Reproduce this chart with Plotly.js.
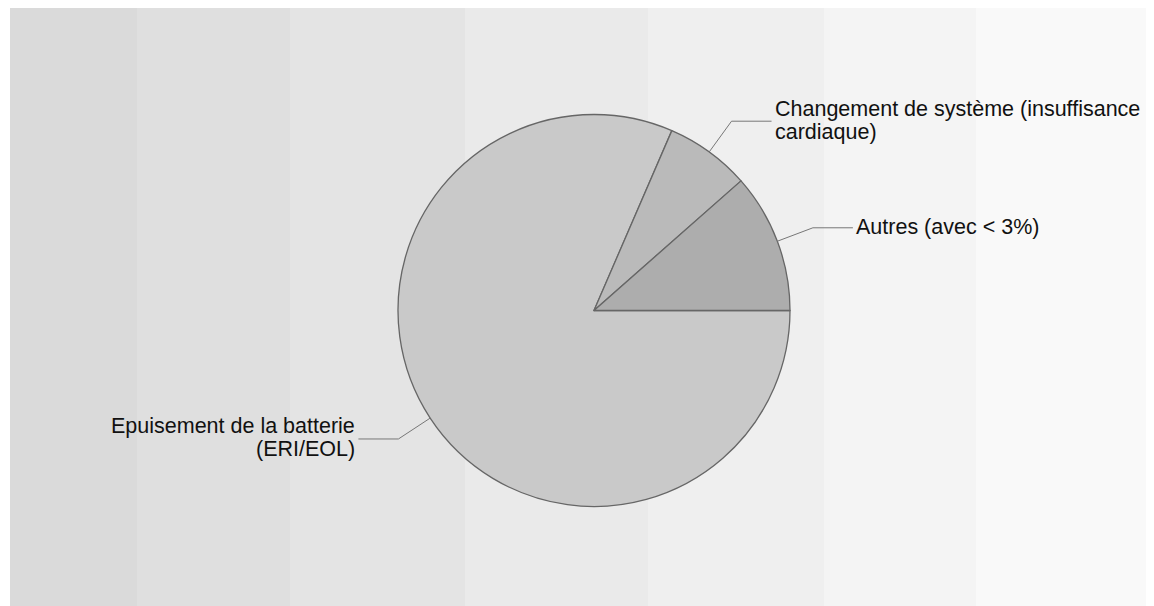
<!DOCTYPE html>
<html>
<head>
<meta charset="utf-8">
<script src="https://cdn.plot.ly/plotly-3.0.1.min.js"></script>
<style>html,body{margin:0;padding:0;background:#fff;}#chart{width:1154px;height:606px;}</style>
</head>
<body>
<div id="chart"></div>
<script>
// Data
const categories = [
  "Epuisement de la batterie<br>(ERI/EOL)",
  "Changement de système (insuffisance<br>cardiaque)",
  "Autres (avec < 3%)"
];
const values = [81.5, 7.0, 11.5];
const sliceColors = ["#c9c9c9", "#bababa", "#adadad"];
const labelSide = ["left", "right", "right"];

// Layout constants
const W = 1154, H = 606;
const domX = [398 / W, 790 / W];
const domY = [1 - 506.5 / H, 1 - 114.5 / H];
const lineH = 23;

// Background vertical bands (decoration)
const bandEdges = [10, 137, 290, 465, 648, 824, 976, 1146];
const bandColors = ["#dadada", "#dfdfdf", "#e4e4e4", "#eaeaea", "#efefef", "#f4f4f4", "#f9f9f9"];

const shapes = [];
for (let i = 0; i < bandColors.length; i++) {
  shapes.push({
    type: "rect", xref: "paper", yref: "paper", layer: "below",
    x0: bandEdges[i] / W, x1: bandEdges[i + 1] / W, y0: 0, y1: 1 - 8 / H,
    fillcolor: bandColors[i], line: { width: 0 }
  });
}

// Leader lines and labels computed from the data
const cx = (domX[0] + domX[1]) / 2 * W;
const cy = (1 - (domY[0] + domY[1]) / 2) * H;
const r = Math.min((domX[1] - domX[0]) * W, (domY[1] - domY[0]) * H) / 2;
const total = values.reduce((a, b) => a + b, 0);
const annotations = [];
let start = 0; // degrees, 3 o'clock, going clockwise
const toPaper = (px, py) => [px / W, 1 - py / H];
for (let i = 0; i < values.length; i++) {
  const span = values[i] / total * 360;
  const mid = (start - span / 2) * Math.PI / 180;
  start -= span;
  const p0 = [cx + r * Math.cos(mid), cy - r * Math.sin(mid)];
  const p1 = [cx + (r + 38) * Math.cos(mid), cy - (r + 38) * Math.sin(mid)];
  const dir = labelSide[i] === "right" ? 1 : -1;
  const p2 = [p1[0] + dir * 40, p1[1]];
  const a = toPaper(...p0), b = toPaper(...p1), c = toPaper(...p2);
  shapes.push({
    type: "path", xref: "paper", yref: "paper", layer: "above",
    path: `M ${a[0]} ${a[1]} L ${b[0]} ${b[1]} L ${c[0]} ${c[1]}`,
    line: { color: "#777777", width: 1 }
  });
  const lines = categories[i].split("<br>");
  lines.forEach((ln, k) => {
    const py = p2[1] + (k - (lines.length - 1) / 2) * lineH - 1;
    const t = toPaper(p2[0] + dir * 1, py);
    annotations.push({
      xref: "paper", yref: "paper", x: t[0], y: t[1],
      xanchor: dir === 1 ? "left" : "right", yanchor: "middle",
      align: dir === 1 ? "left" : "right",
      text: ln, showarrow: false,
      font: { family: "Liberation Sans, Arial, sans-serif", size: 21.5, color: "#111111" }
    });
  });
}

const trace = {
  type: "pie",
  labels: categories,
  values: values,
  sort: false,
  direction: "clockwise",
  rotation: 90,
  textinfo: "none",
  hoverinfo: "skip",
  marker: { colors: sliceColors, line: { color: "#666666", width: 1.3 } },
  domain: { x: domX, y: domY },
  showlegend: false
};

const layout = {
  width: W, height: H,
  margin: { l: 0, r: 0, t: 0, b: 0 },
  paper_bgcolor: "#ffffff",
  showlegend: false,
  shapes: shapes,
  annotations: annotations
};

Plotly.newPlot("chart", [trace], layout, { displayModeBar: false, staticPlot: true });
</script>
</body>
</html>
